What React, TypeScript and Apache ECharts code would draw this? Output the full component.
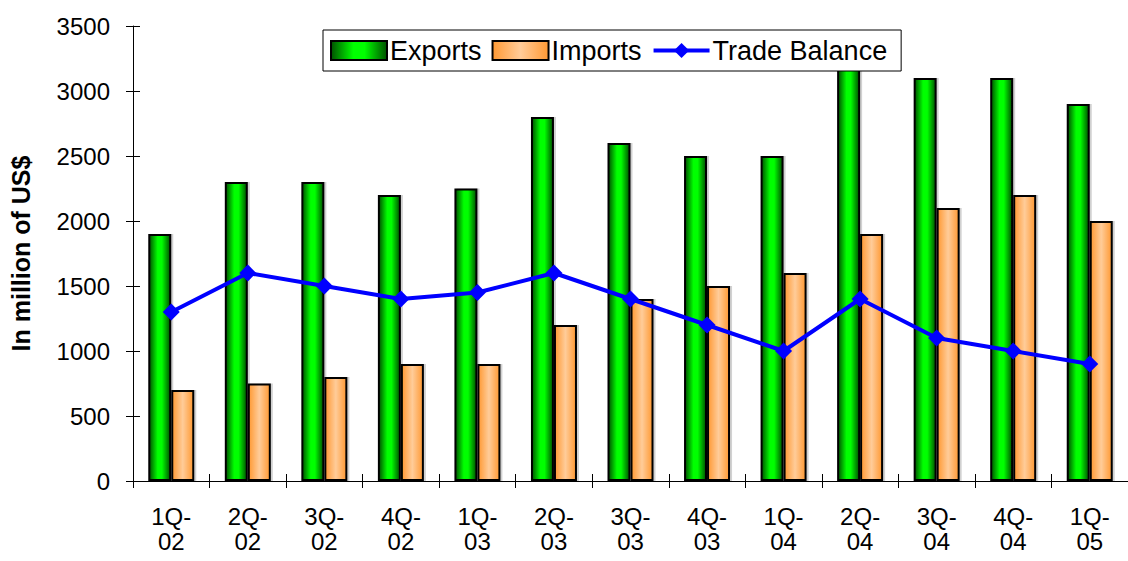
import React, { useEffect, useRef } from "react";
import * as echarts from "echarts";

const categories = ["1Q-\n02", "2Q-\n02", "3Q-\n02", "4Q-\n02", "1Q-\n03", "2Q-\n03", "3Q-\n03", "4Q-\n03", "1Q-\n04", "2Q-\n04", "3Q-\n04", "4Q-\n04", "1Q-\n05"];
const exportsData = [1900, 2300, 2300, 2200, 2250, 2800, 2600, 2500, 2500, 3200, 3100, 3100, 2900];
const importsData = [700, 750, 800, 900, 900, 1200, 1400, 1500, 1600, 1900, 2100, 2200, 2000];
const tradeBalance = [1300, 1600, 1500, 1400, 1450, 1600, 1400, 1200, 1000, 1400, 1100, 1000, 900];

const FONT = "Arial, 'Liberation Sans', sans-serif";

export default function App() {
  const ref = useRef<HTMLDivElement>(null);
  useEffect(() => {
    if (!ref.current) return;
    const chart = echarts.init(ref.current, null, { renderer: "svg" });
    const greenGrad = new echarts.graphic.LinearGradient(0, 0, 1, 0, [
      { offset: 0, color: "#005000" },
      { offset: 0.4, color: "#00ff00" },
      { offset: 0.6, color: "#00ff00" },
      { offset: 1, color: "#005000" },
    ]);
    const orangeGrad = new echarts.graphic.LinearGradient(0, 0, 1, 0, [
      { offset: 0, color: "#ff9933" },
      { offset: 0.5, color: "#ffcc99" },
      { offset: 1, color: "#ff9933" },
    ]);
    const yBase = {
      type: "value" as const,
      min: 0,
      max: 3500,
      interval: 500,
      position: "left" as const,
      splitLine: { show: false },
    };
    const barShadow = {
      shadowColor: "rgba(0,0,0,0.18)",
      shadowOffsetX: 2,
      shadowOffsetY: 0,
      shadowBlur: 0,
    };
    chart.setOption({
      animation: false,
      backgroundColor: "#ffffff",
      textStyle: { fontFamily: FONT },
      grid: { left: 129, top: 26, width: 1013, bottom: 80, containLabel: false },
      legend: {
        top: 30,
        left: 323,
        padding: [7, 14, 7, 7],
        itemGap: 10,
        itemWidth: 56,
        itemHeight: 19,
        backgroundColor: "#ffffff",
        borderColor: "#000000",
        borderWidth: 1,
        borderRadius: 0,
        textStyle: { fontSize: 27, color: "#000", fontFamily: FONT, padding: [0, 0, 0, -2] },
        data: [
          { name: "Exports", icon: "rect" },
          { name: "Imports", icon: "rect" },
          { name: "Trade Balance", lineStyle: { width: 4, color: "#0000ff" } },
        ],
        z: 10,
      },
      xAxis: [
        {
          type: "category",
          data: categories,
          position: "bottom",
          axisLine: { show: true, lineStyle: { color: "#000", width: 1 } },
          axisTick: { show: true, length: 7, lineStyle: { color: "#000" } },
          axisLabel: { fontSize: 24, color: "#000", margin: 23, lineHeight: 25, fontFamily: FONT, interval: 0 },
        },
        {
          type: "category",
          data: categories,
          position: "bottom",
          axisLine: { show: false },
          axisTick: { show: true, inside: true, length: 7, lineStyle: { color: "#000" } },
          axisLabel: { show: false },
        },
      ],
      yAxis: [
        {
          ...yBase,
          name: "In million of US$",
          nameLocation: "middle",
          nameGap: 100,
          nameTextStyle: { fontSize: 25, fontWeight: "bold", color: "#000", fontFamily: FONT },
          axisLine: { show: true, lineStyle: { color: "#000", width: 1 } },
          axisTick: { show: true, length: 7, lineStyle: { color: "#000" } },
          axisLabel: { fontSize: 24, color: "#000", margin: 23, fontFamily: FONT, formatter: (v: number) => String(v) },
        },
        {
          ...yBase,
          axisLine: { show: false },
          axisTick: { show: true, inside: true, length: 7, lineStyle: { color: "#000" } },
          axisLabel: { show: false },
        },
      ],
      series: [
        {
          name: "Exports",
          type: "bar",
          data: exportsData,
          barWidth: 23,
          barGap: "0%",
          itemStyle: { color: greenGrad, borderColor: "#000", borderWidth: 2, ...barShadow },
        },
        {
          name: "Imports",
          type: "bar",
          data: importsData,
          barWidth: 23,
          barGap: "0%",
          itemStyle: { color: orangeGrad, borderColor: "#000", borderWidth: 2, ...barShadow },
        },
        {
          name: "Trade Balance",
          type: "line",
          data: tradeBalance,
          symbol: "diamond",
          symbolSize: 17,
          lineStyle: { color: "#0000ff", width: 4 },
          itemStyle: { color: "#0000ff" },
          z: 5,
        },
      ],
    });
    return () => chart.dispose();
  }, []);
  return <div ref={ref} style={{ position: "fixed", left: 0, top: 0, width: 1128, height: 561 }} />;
}
